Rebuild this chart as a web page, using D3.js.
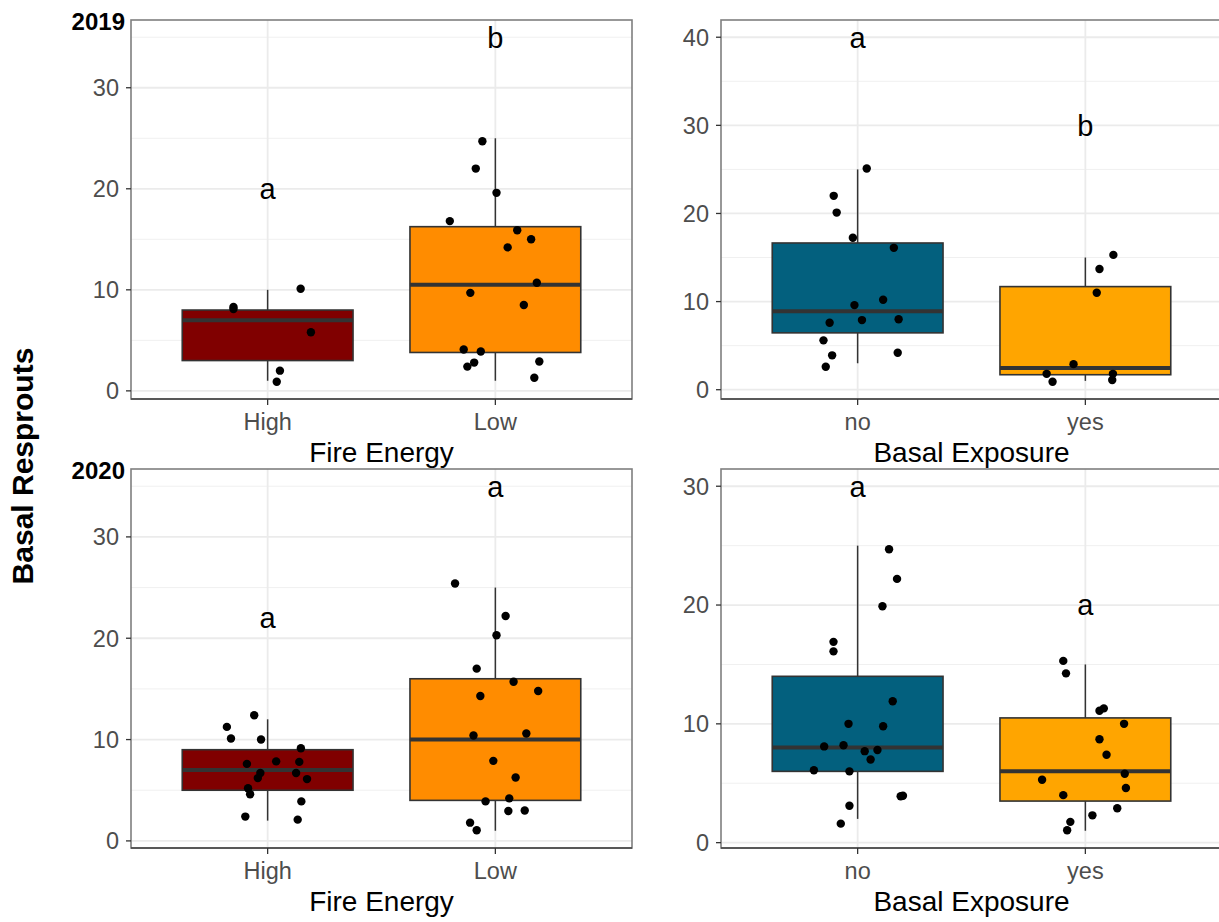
<!DOCTYPE html>
<html><head><meta charset="utf-8">
<script src="https://cdn.jsdelivr.net/npm/d3@7"></script>
<style>
body{margin:0;background:#fff}
svg{display:block}
text{font-family:"Liberation Sans",Arial,Helvetica,sans-serif}
</style>
</head><body>
<svg id="chart" width="1219" height="922"></svg>
<script>
// ---------------- DATA ----------------
const yearLabels = ["2019", "2020"];
const fireCategories = ["High", "Low"];
const exposureCategories = ["no", "yes"];
const fireTitle = "Fire Energy";
const exposureTitle = "Basal Exposure";
const yTitle = "Basal Resprouts";

// box statistics per category: [lower whisker, Q1, median, Q3, upper whisker]
const fire2019Stats = [[1, 3, 7, 8, 10], [1, 3.8, 10.5, 16.25, 25]];
const exposure2019Stats = [[3, 6.45, 8.9, 16.65, 25], [1, 1.7, 2.45, 11.7, 15]];
const fire2020Stats = [[2, 5, 7, 9, 12], [1, 4, 10, 16, 25]];
const exposure2020Stats = [[2, 6, 8, 14, 25], [1, 3.5, 6, 10.5, 15]];

// jittered observations (value, horizontal jitter in category units)
const fire2019HighValues = [8.3, 8.1, 10.1, 5.8, 2.0, 0.9];
const fire2019HighJitter = [-0.15, -0.15, 0.145, 0.19, 0.054, 0.04];
const fire2019LowValues = [24.7, 22.0, 19.6, 16.8, 15.9, 15.0, 14.2, 10.7, 9.7, 8.5, 4.1, 3.9, 2.8, 2.4, 2.9, 1.3];
const fire2019LowJitter = [-0.057, -0.086, 0.005, -0.2, 0.096, 0.157, 0.054, 0.182, -0.11, 0.125, -0.139, -0.064, -0.093, -0.123, 0.193, 0.171];

const exposure2019NoValues = [25.1, 22.0, 20.1, 17.25, 16.1, 10.2, 9.6, 7.6, 7.9, 8.0, 5.6, 3.9, 4.2, 2.6];
const exposure2019NoJitter = [0.04, -0.105, -0.092, -0.021, 0.159, 0.112, -0.014, -0.123, 0.019, 0.18, -0.15, -0.112, 0.176, -0.14];
const exposure2019YesValues = [15.3, 13.7, 11.0, 2.9, 1.8, 0.9, 1.8, 1.1];
const exposure2019YesJitter = [0.123, 0.062, 0.05, -0.052, -0.17, -0.144, 0.121, 0.118];

const fire2020HighValues = [12.4, 11.25, 10.1, 10.0, 9.15, 7.6, 7.85, 7.8, 6.7, 6.2, 6.7, 6.1, 5.2, 4.6, 3.9, 2.4, 2.1];
const fire2020HighJitter = [-0.059, -0.179, -0.161, -0.029, 0.146, -0.091, 0.0375, 0.139, -0.032, -0.043, 0.125, 0.173, -0.086, -0.077, 0.148, -0.098, 0.132];
const fire2020LowValues = [25.4, 22.2, 20.3, 17.0, 15.7, 14.8, 14.3, 10.4, 10.6, 7.9, 6.25, 3.9, 4.2, 2.95, 3.0, 1.8, 1.05];
const fire2020LowJitter = [-0.177, 0.045, 0.005, -0.082, 0.08, 0.188, -0.066, -0.096, 0.136, -0.009, 0.089, -0.043, 0.061, 0.057, 0.129, -0.111, -0.082];

const exposure2020NoValues = [24.7, 22.2, 19.9, 16.9, 16.1, 11.9, 10.0, 9.8, 8.1, 8.2, 7.7, 7.8, 7.0, 6.1, 6.0, 3.9, 3.95, 3.1, 1.6];
const exposure2020NoJitter = [0.138, 0.173, 0.109, -0.106, -0.106, 0.154, -0.04, 0.112, -0.147, -0.062, 0.031, 0.087, 0.057, -0.192, -0.036, 0.189, 0.199, -0.036, -0.074];
const exposure2020YesValues = [15.3, 14.25, 11.3, 11.1, 10.0, 8.7, 7.4, 5.8, 5.3, 4.6, 4.0, 2.9, 2.3, 1.75, 1.05];
const exposure2020YesJitter = [-0.097, -0.085, 0.081, 0.062, 0.17, 0.062, 0.093, 0.173, -0.19, 0.178, -0.097, 0.14, 0.031, -0.066, -0.08];

// significance letters and their heights
const fire2019Letters = ["a", "b"], fire2019LetterY = [20, 35];
const exposure2019Letters = ["a", "b"], exposure2019LetterY = [40, 30];
const fire2020Letters = ["a", "a"], fire2020LetterY = [22, 35];
const exposure2020Letters = ["a", "a"], exposure2020LetterY = [30, 20];

// y-axis tick labels
const fire2019Ticks = [0, 10, 20, 30];
const exposure2019Ticks = [0, 10, 20, 30, 40];
const fire2020Ticks = [0, 10, 20, 30];
const exposure2020Ticks = [0, 10, 20, 30];

// ---------------- STYLE / LAYOUT ----------------
const fireColors = ["#800000", "#FF8C00"];
const exposureColors = ["#03607E", "#FFA500"];
const colX = [131, 721], rowY = [20, 469];
const panelW = 501, panelH = 379;

const panels = [
  {col: 0, row: 0, year: yearLabels[0], cats: fireCategories, title: fireTitle, stats: fire2019Stats,
   values: [fire2019HighValues, fire2019LowValues], jitter: [fire2019HighJitter, fire2019LowJitter],
   letters: fire2019Letters, letterY: fire2019LetterY, ticks: fire2019Ticks, colors: fireColors},
  {col: 1, row: 0, year: null, cats: exposureCategories, title: exposureTitle, stats: exposure2019Stats,
   values: [exposure2019NoValues, exposure2019YesValues], jitter: [exposure2019NoJitter, exposure2019YesJitter],
   letters: exposure2019Letters, letterY: exposure2019LetterY, ticks: exposure2019Ticks, colors: exposureColors},
  {col: 0, row: 1, year: yearLabels[1], cats: fireCategories, title: fireTitle, stats: fire2020Stats,
   values: [fire2020HighValues, fire2020LowValues], jitter: [fire2020HighJitter, fire2020LowJitter],
   letters: fire2020Letters, letterY: fire2020LetterY, ticks: fire2020Ticks, colors: fireColors},
  {col: 1, row: 1, year: null, cats: exposureCategories, title: exposureTitle, stats: exposure2020Stats,
   values: [exposure2020NoValues, exposure2020YesValues], jitter: [exposure2020NoJitter, exposure2020YesJitter],
   letters: exposure2020Letters, letterY: exposure2020LetterY, ticks: exposure2020Ticks, colors: exposureColors}
];

const svg = d3.select("#chart");

panels.forEach(p => {
  const x0 = colX[p.col], y0 = rowY[p.row];
  const g = svg.append("g").attr("transform", `translate(${x0},${y0})`);

  // ggplot-like continuous expansion (5%)
  const allVals = p.values.flat().concat(p.stats.map(s => s[0])).concat(p.letterY);
  const lo = d3.min(allVals), hi = d3.max(allVals);
  const pad = (hi - lo) * 0.05;
  const y = d3.scaleLinear().domain([lo - pad, hi + pad]).range([panelH, 0]);
  // discrete axis: 0.6 expansion on each side
  const xLin = d3.scaleLinear().domain([0.4, 2.6]).range([0, panelW]);
  const xc = i => xLin(i + 1);
  const unit = xLin(2) - xLin(1);

  const clip = "clip" + p.col + p.row;
  g.append("clipPath").attr("id", clip).append("rect").attr("width", panelW).attr("height", panelH);
  const inner = g.append("g").attr("clip-path", `url(#${clip})`);

  // grid
  const step = p.ticks[1] - p.ticks[0];
  const minor = [p.ticks[0] - step / 2].concat(p.ticks.map(t => t + step / 2))
    .filter(v => v >= y.domain()[0] && v <= y.domain()[1]);
  inner.selectAll(".minor").data(minor).join("line")
    .attr("x1", 0).attr("x2", panelW).attr("y1", d => y(d)).attr("y2", d => y(d))
    .attr("stroke", "#F0F0F0").attr("stroke-width", 1);
  inner.selectAll(".major").data(p.ticks).join("line")
    .attr("x1", 0).attr("x2", panelW).attr("y1", d => y(d)).attr("y2", d => y(d))
    .attr("stroke", "#EBEBEB").attr("stroke-width", 1.8);
  inner.selectAll(".vmajor").data(p.cats).join("line")
    .attr("x1", (d, i) => xc(i)).attr("x2", (d, i) => xc(i)).attr("y1", 0).attr("y2", panelH)
    .attr("stroke", "#EBEBEB").attr("stroke-width", 1.8);

  // boxes
  const bw = unit * 0.75;
  p.stats.forEach((s, i) => {
    const cx = xc(i);
    inner.append("line").attr("x1", cx).attr("x2", cx).attr("y1", y(s[4])).attr("y2", y(s[3]))
      .attr("stroke", "#333333").attr("stroke-width", 1.5);
    inner.append("line").attr("x1", cx).attr("x2", cx).attr("y1", y(s[1])).attr("y2", y(s[0]))
      .attr("stroke", "#333333").attr("stroke-width", 1.5);
    inner.append("rect").attr("x", cx - bw / 2).attr("width", bw)
      .attr("y", y(s[3])).attr("height", y(s[1]) - y(s[3]))
      .attr("fill", p.colors[i]).attr("stroke", "#333333").attr("stroke-width", 1.6);
    inner.append("line").attr("x1", cx - bw / 2).attr("x2", cx + bw / 2)
      .attr("y1", y(s[2])).attr("y2", y(s[2]))
      .attr("stroke", "#333333").attr("stroke-width", 4);
  });

  // points
  p.values.forEach((vals, i) => {
    inner.selectAll(null).data(vals.map((v, k) => ({v, j: p.jitter[i][k]}))).join("circle")
      .attr("cx", d => xc(i) + d.j * unit).attr("cy", d => y(d.v)).attr("r", 4.2).attr("fill", "#000");
  });

  // letters
  p.letters.forEach((l, i) => {
    g.append("text").attr("x", xc(i)).attr("y", y(p.letterY[i])).attr("dy", "0.36em")
      .attr("text-anchor", "middle").attr("font-size", 29).attr("fill", "#000").text(l);
  });

  // border
  g.append("rect").attr("width", panelW).attr("height", panelH).attr("fill", "none")
    .attr("stroke", "#7F7F7F").attr("stroke-width", 1.6);
  g.append("line").attr("x1", 0).attr("x2", panelW).attr("y1", panelH).attr("y2", panelH)
    .attr("stroke", "#444").attr("stroke-width", 1.6);

  // y axis
  const ya = g.append("g");
  ya.selectAll("line").data(p.ticks).join("line")
    .attr("x1", -5).attr("x2", 0).attr("y1", d => y(d)).attr("y2", d => y(d))
    .attr("stroke", "#333").attr("stroke-width", 1.3);
  ya.selectAll("text").data(p.ticks).join("text")
    .attr("x", -12).attr("y", d => y(d)).attr("dy", "0.36em").attr("text-anchor", "end")
    .attr("font-size", 23.5).attr("fill", "#4D4D4D").text(d => d);

  // x axis
  const xa = g.append("g");
  xa.selectAll("line").data(p.cats).join("line")
    .attr("x1", (d, i) => xc(i)).attr("x2", (d, i) => xc(i)).attr("y1", panelH).attr("y2", panelH + 6)
    .attr("stroke", "#333").attr("stroke-width", 1.3);
  xa.selectAll("text").data(p.cats).join("text")
    .attr("x", (d, i) => xc(i)).attr("y", panelH + 31).attr("text-anchor", "middle")
    .attr("font-size", 23.5).attr("fill", "#4D4D4D").text(d => d);
  g.append("text").attr("x", panelW / 2).attr("y", panelH + 63).attr("text-anchor", "middle")
    .attr("font-size", 28).attr("fill", "#000").text(p.title);

  if (p.year) {
    g.append("text").attr("x", -6).attr("y", 10).attr("text-anchor", "end")
      .attr("font-size", 24).attr("font-weight", "bold").attr("fill", "#000").text(p.year);
  }
});

svg.append("text").attr("transform", "translate(33,466) rotate(-90)").attr("text-anchor", "middle")
  .attr("font-size", 30).attr("font-weight", "bold").attr("fill", "#000").text(yTitle);
</script>
</body></html>
